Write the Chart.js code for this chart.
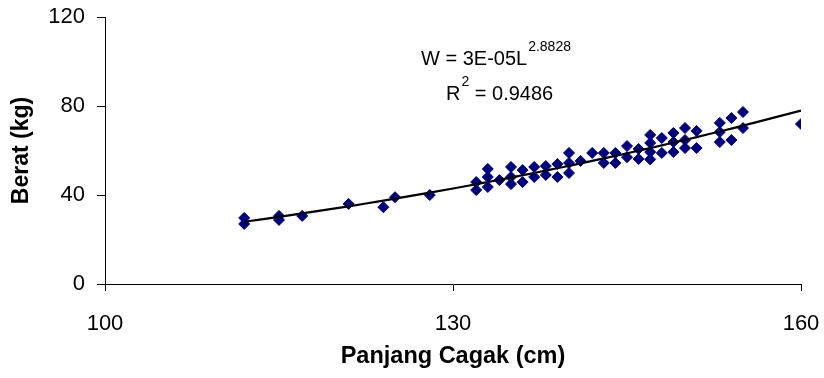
<!DOCTYPE html>
<html>
<head>
<meta charset="utf-8">
<script src="https://cdn.jsdelivr.net/npm/chart.js@4/dist/chart.umd.min.js"></script>
<style>
  html, body { margin: 0; padding: 0; background: #fff; }
  #wrap { width: 824px; height: 378px; }
</style>
</head>
<body>
<div id="wrap"><canvas id="chartBerat"></canvas></div>
<script>
// Panjang cagak (cm) vs berat (kg)
const panjangCagak = [112, 112, 115, 115, 117, 121, 124, 125, 128,
  132, 132, 133, 133, 133, 134, 135, 135, 135, 136, 136, 137, 137, 138, 138,
  139, 139, 140, 140, 140, 141, 142, 143, 143, 144, 144, 145, 145, 146, 146,
  147, 147, 147, 147, 148, 148, 149, 149, 149, 150, 150, 150, 151, 151,
  153, 153, 153, 154, 154, 155, 155, 160];
const berat = [29.7, 27.0, 30.6, 28.8, 30.6, 36, 34.5, 39, 40,
  45.8, 42.2, 51.7, 48.1, 43.6, 46.7, 52.6, 48.1, 44.9, 51.2, 45.8, 52.6, 48.1, 53, 49,
  53.9, 48.1, 58.9, 54.4, 49.9, 55.3, 58.9, 58.9, 54.4, 58.9, 54.4, 62, 57, 60.7, 56.2,
  67, 63.4, 59.3, 56, 65.6, 58.9, 67.9, 63.8, 59.3, 70.1, 64.7, 61.1, 68.8, 61.1,
  72.4, 68.3, 63.8, 74.6, 64.7, 77.3, 70.1, 71.9];
const xTicks = [100, 130, 160];
const yTicks = [0, 40, 80, 120];
const labelPersamaan = 'W = 3E-05L';
const labelPangkat = '2.8828';
const labelR2 = '0.9486';

// power trendline (least squares in log-log), like Excel
function fitPower(xs, ys) {
  const n = xs.length;
  let sx = 0, sy = 0, sxx = 0, sxy = 0;
  for (let i = 0; i < n; i++) {
    const lx = Math.log(xs[i]), ly = Math.log(ys[i]);
    sx += lx; sy += ly; sxx += lx * lx; sxy += lx * ly;
  }
  const b = (n * sxy - sx * sy) / (n * sxx - sx * sx);
  const a = Math.exp((sy - b * sx) / n);
  return { a, b };
}
const fit = fitPower(panjangCagak, berat);
const trendX = [...new Set(panjangCagak)].sort((p, q) => p - q);
const trendData = trendX.map(x => ({ x: x, y: fit.a * Math.pow(x, fit.b) }));

const FONT = '"Liberation Sans", Arial, sans-serif';

const persamaanPlugin = {
  id: 'persamaan',
  afterDraw(chart) {
    const c = chart.ctx;
    c.save();
    c.fillStyle = '#000';
    c.textBaseline = 'alphabetic';
    c.textAlign = 'left';
    c.font = '20px ' + FONT;
    let x = 421, y = 65;
    c.fillText(labelPersamaan, x, y);
    x += c.measureText(labelPersamaan).width + 1;
    c.font = '14px ' + FONT;
    c.fillText(labelPangkat, x, y - 14);

    x = 446; y = 100;
    c.font = '20px ' + FONT;
    c.fillText('R', x, y);
    x += c.measureText('R').width + 1;
    c.font = '14px ' + FONT;
    c.fillText('2', x, y - 14);
    x += c.measureText('2').width;
    c.font = '20px ' + FONT;
    c.fillText(' = ' + labelR2, x, y);
    c.restore();
  }
};

new Chart(document.getElementById('chartBerat'), {
  type: 'scatter',
  data: {
    datasets: [
      {
        label: 'Berat',
        data: panjangCagak.map((x, i) => ({ x: x, y: berat[i] })),
        pointStyle: 'rectRot',
        pointRadius: 5.5,
        pointBackgroundColor: '#000080',
        pointBorderColor: '#000080',
        pointBorderWidth: 1,
        order: 2
      },
      {
        label: 'Power',
        type: 'line',
        data: trendData,
        borderColor: '#000',
        borderWidth: 2.2,
        pointRadius: 0,
        fill: false,
        tension: 0.3,
        order: 1
      }
    ]
  },
  options: {
    responsive: true,
    maintainAspectRatio: false,
    animation: false,
    layout: { padding: { top: 17, right: 23, bottom: 0, left: 0 } },
    plugins: {
      legend: { display: false },
      tooltip: { enabled: false }
    },
    scales: {
      x: {
        type: 'linear',
        min: 100,
        max: 160,
        afterFit: (s) => { s.height = 94; s.paddingLeft = 0; s.paddingRight = 0; },
        afterBuildTicks: (s) => { s.ticks = xTicks.map(v => ({ value: v })); },
        grid: { display: true, drawOnChartArea: false, drawTicks: true, tickLength: 7, color: '#000' },
        border: { display: true, color: '#000', width: 1 },
        ticks: { color: '#000', padding: 20, font: { size: 22, family: FONT } },
        title: {
          display: true,
          text: 'Panjang Cagak (cm)',
          color: '#000',
          padding: { top: 0, bottom: 7 },
          font: { size: 23.5, weight: 'bold', family: FONT }
        }
      },
      y: {
        type: 'linear',
        min: 0,
        max: 120,
        afterFit: (s) => { s.width = 105; s.paddingTop = 0; s.paddingBottom = 0; },
        afterBuildTicks: (s) => { s.ticks = yTicks.map(v => ({ value: v })); },
        grid: { display: true, drawOnChartArea: false, drawTicks: true, tickLength: 8, color: '#000' },
        border: { display: true, color: '#000', width: 1 },
        ticks: { color: '#000', padding: 12, font: { size: 22, family: FONT } },
        title: {
          display: true,
          text: 'Berat (kg)',
          color: '#000',
          padding: { top: 8, bottom: 0 },
          font: { size: 23, weight: 'bold', family: FONT }
        }
      }
    }
  },
  plugins: [persamaanPlugin]
});
</script>
</body>
</html>
